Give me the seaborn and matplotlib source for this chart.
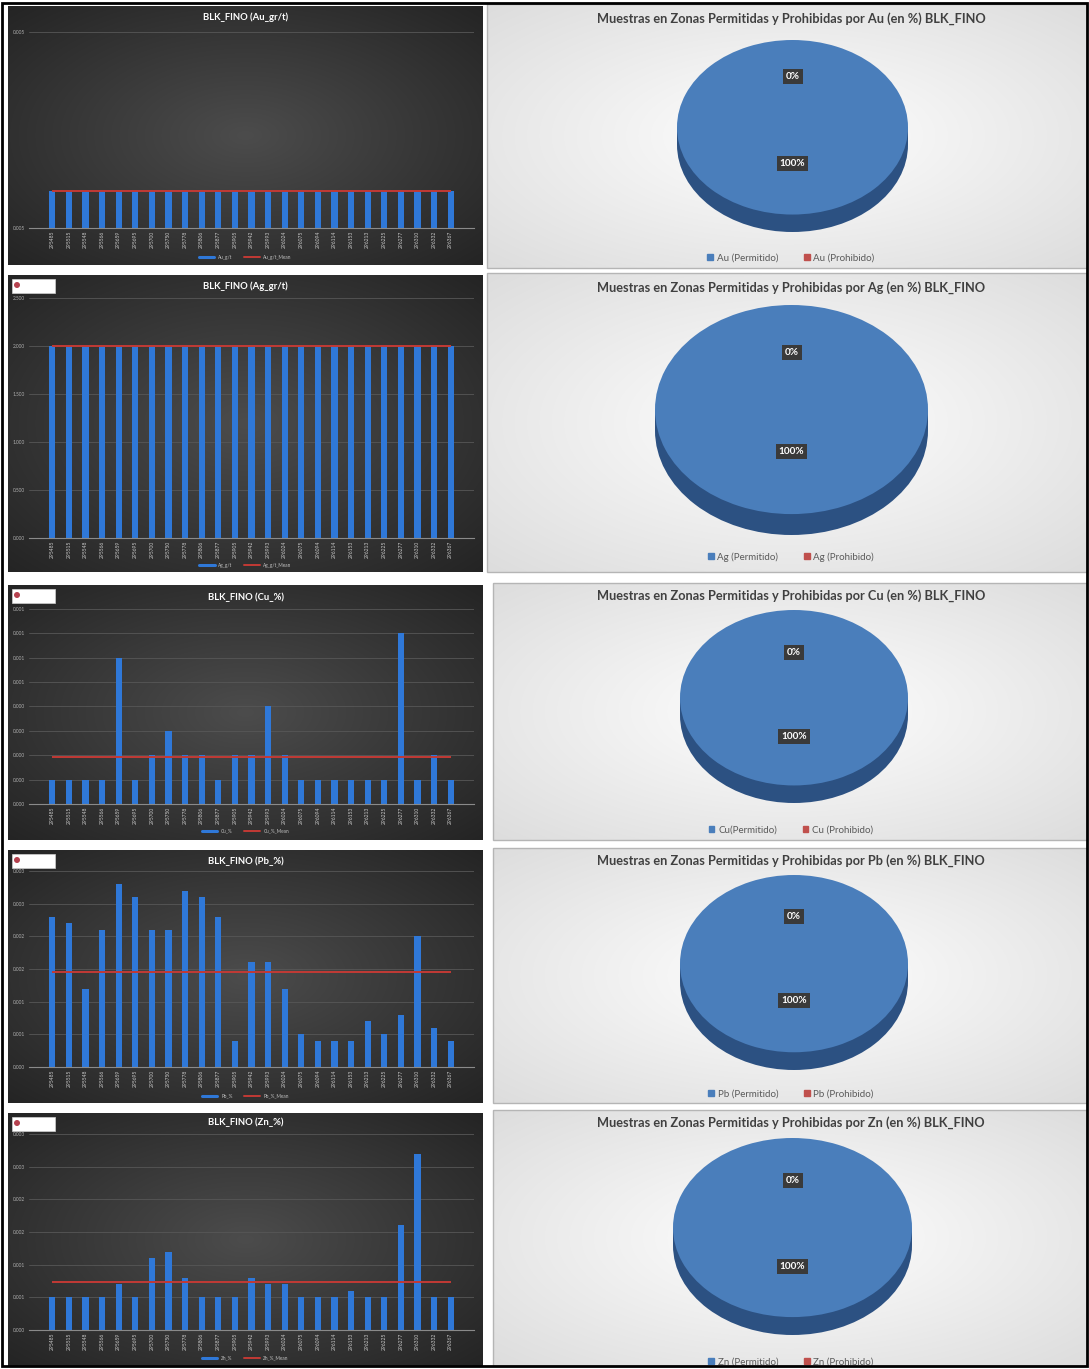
import numpy as np
import pandas as pd
import matplotlib
matplotlib.use("Agg")
import matplotlib.pyplot as plt
from matplotlib.colors import to_rgb
from matplotlib.lines import Line2D
from matplotlib.patches import Rectangle, Ellipse, Patch
import seaborn as sns

sns.set_theme(style="dark")
plt.rcParams["font.family"] = ["Lato", "DejaVu Sans"]

FIG_W, FIG_H = 1089, 1369

# ---------------------------------------------------------------- data
sample_ids = ["295485", "295515", "295548", "295566", "295659", "295695",
              "295700", "295750", "295778", "295806", "295877", "295905",
              "295942", "295993", "296024", "296075", "296094", "296114",
              "296153", "296213", "296225", "296277", "296310", "296332",
              "296367"]

au_gt = [0.005, 0.005, 0.005, 0.005, 0.005, 0.005, 0.005, 0.005, 0.005,
         0.005, 0.005, 0.005, 0.005, 0.005, 0.005, 0.005, 0.005, 0.005,
         0.005, 0.005, 0.005, 0.005, 0.005, 0.005, 0.005]
ag_gt = [2.0, 2.0, 2.0, 2.0, 2.0, 2.0, 2.0, 2.0, 2.0, 2.0, 2.0, 2.0, 2.0,
         2.0, 2.0, 2.0, 2.0, 2.0, 2.0, 2.0, 2.0, 2.0, 2.0, 2.0, 2.0]
cu_pct = [0.0001, 0.0001, 0.0001, 0.0001, 0.0006, 0.0001, 0.0002, 0.0003,
          0.0002, 0.0002, 0.0001, 0.0002, 0.0002, 0.0004, 0.0002, 0.0001,
          0.0001, 0.0001, 0.0001, 0.0001, 0.0001, 0.0007, 0.0001, 0.0002,
          0.0001]
pb_pct = [0.0023, 0.0022, 0.0012, 0.0021, 0.0028, 0.0026, 0.0021, 0.0021,
          0.0027, 0.0026, 0.0023, 0.0004, 0.0016, 0.0016, 0.0012, 0.0005,
          0.0004, 0.0004, 0.0004, 0.0007, 0.0005, 0.0008, 0.0020, 0.0006,
          0.0004]
zn_pct = [0.0005, 0.0005, 0.0005, 0.0005, 0.0007, 0.0005, 0.0011, 0.0012,
          0.0008, 0.0005, 0.0005, 0.0005, 0.0008, 0.0007, 0.0007, 0.0005,
          0.0005, 0.0005, 0.0006, 0.0005, 0.0005, 0.0016, 0.0027, 0.0005,
          0.0005]

au_ticks = [0.0049, 0.00543]
au_tick_labels = ["0.005", "0.005"]
ag_ticks = [0.0, 0.5, 1.0, 1.5, 2.0, 2.5]
ag_tick_labels = ["0.000", "0.500", "1.000", "1.500", "2.000", "2.500"]
cu_ticks = [0.0, 0.0001, 0.0002, 0.0003, 0.0004, 0.0005, 0.0006, 0.0007, 0.0008]
cu_tick_labels = ["0.000", "0.000", "0.000", "0.000", "0.000",
                  "0.001", "0.001", "0.001", "0.001"]
pbzn_ticks = [0.0, 0.0005, 0.001, 0.0015, 0.002, 0.0025, 0.003]
pbzn_tick_labels = ["0.000", "0.001", "0.001", "0.002", "0.002", "0.003", "0.003"]

# share of samples (%) in permitted / prohibited zones for each element
zone_share_au = [100, 0]
zone_share_ag = [100, 0]
zone_share_cu = [100, 0]
zone_share_pb = [100, 0]
zone_share_zn = [100, 0]

BAR_BLUE = "#2f78d8"
MEAN_RED = "#c23a35"
PIE_BLUE = "#4a7ebb"
PIE_SIDE = "#2c5182"
PIE_RED = "#c0504d"

fig = plt.figure(figsize=(FIG_W / 100, FIG_H / 100), dpi=100)
fig.patch.set_facecolor("white")


def box(x0, y0, x1, y1):
    return [x0 / FIG_W, 1 - y1 / FIG_H, (x1 - x0) / FIG_W, (y1 - y0) / FIG_H]


def fx(x):
    return x / FIG_W


def fy(y):
    return 1 - y / FIG_H


def radial(inner, outer, ny=120, nx=200, cx=0.5, cy=0.5, spread=0.75, power=1.0):
    yy, xx = np.mgrid[0:1:ny * 1j, 0:1:nx * 1j]
    r = np.sqrt(((xx - cx) / spread) ** 2 + ((yy - cy) / spread) ** 2)
    r = np.clip(r, 0, 1) ** power
    a = np.array(to_rgb(inner))
    b = np.array(to_rgb(outer))
    return a[None, None, :] * (1 - r[..., None]) + b[None, None, :] * r[..., None]


def background(panel, inner, outer, **kw):
    bg = fig.add_axes(box(*panel))
    bg.imshow(radial(inner, outer, **kw), aspect="auto", extent=(0, 1, 0, 1),
              interpolation="bilinear")
    bg.set_axis_off()
    return bg


def logo(x0, y0):
    fig.patches.append(Rectangle((fx(x0), fy(y0 + 14)), 43 / FIG_W, 14 / FIG_H,
                                 transform=fig.transFigure, facecolor="white",
                                 edgecolor="#d0d0d0", lw=0.5, zorder=5))
    fig.patches.append(Ellipse((fx(x0 + 5), fy(y0 + 6)), 6 / FIG_W, 6 / FIG_H,
                               transform=fig.transFigure, facecolor="#b5424f",
                               lw=0, zorder=6))


def bar_panel(panel, plot, values, ticks, tick_labels, title, title_y,
              series, legend_y, with_logo):
    background(panel, "#4c4c4c", "#1f1f1f", spread=0.8)
    cx = (panel[0] + panel[2]) / 2
    ax = fig.add_axes(box(*plot))
    ax.set_facecolor("none")
    df = pd.DataFrame({"sample": sample_ids, "value": values})
    sns.barplot(data=df, x="sample", y="value", color=BAR_BLUE, saturation=1,
                width=0.37, ax=ax, zorder=2, edgecolor="none", linewidth=0)
    mean = float(np.mean(values))
    ax.hlines(mean, 0, len(values) - 1, color=MEAN_RED, lw=1.4, zorder=3)
    ax.set_ylim(ticks[0], ticks[-1])
    ax.set_yticks(ticks)
    ax.set_yticklabels(tick_labels)
    ax.set_xlabel("")
    ax.set_ylabel("")
    ax.tick_params(axis="x", rotation=90, labelsize=3.6, colors="#c8c8c8",
                   length=0, pad=2)
    ax.tick_params(axis="y", labelsize=3.4, colors="#b0b0b0", length=0, pad=3)
    ax.grid(axis="y", color="#575757", lw=0.6)
    ax.set_axisbelow(True)
    for s in ["top", "right", "left"]:
        ax.spines[s].set_visible(False)
    ax.spines["bottom"].set_color("#8a8a8a")
    ax.spines["bottom"].set_linewidth(0.8)
    fig.text(fx(cx), fy(title_y), title, color="white", fontsize=6.8,
             fontweight="bold", ha="center", va="center")
    handles = [Line2D([], [], color=BAR_BLUE, lw=2.2),
               Line2D([], [], color=MEAN_RED, lw=1.4)]
    fig.legend(handles, [series, series + "_Mean"], loc="center",
               bbox_to_anchor=(fx(cx), fy(legend_y)), ncol=2, frameon=False,
               fontsize=3.4, labelcolor="#c0c0c0", handlelength=3.2,
               columnspacing=2.5)
    if with_logo:
        logo(panel[0] + 4, panel[1] + 4)


def pie_panel(panel, pie_box, share, element, title_y, legend_y, label_y,
              permit_label):
    background(panel, "#ffffff", "#d6d6d6", spread=0.85)
    fig.patches.append(Rectangle((fx(panel[0]), fy(panel[3])),
                                 (panel[2] - panel[0]) / FIG_W,
                                 (panel[3] - panel[1]) / FIG_H,
                                 transform=fig.transFigure, fill=False,
                                 edgecolor="#b5b5b5", lw=1.0, zorder=4))
    cx = 791
    ax = fig.add_axes(box(*pie_box))
    depth = 0.2
    ax.add_patch(Ellipse((0, -depth), 2, 2, facecolor=PIE_SIDE, lw=0))
    ax.add_patch(Rectangle((-1, -depth), 2, depth, facecolor=PIE_SIDE, lw=0))
    wedges, texts, autotexts = ax.pie(
        share, colors=[PIE_BLUE, PIE_RED], startangle=90, counterclock=False,
        autopct="%1.0f%%", pctdistance=0.5, wedgeprops={"linewidth": 0})
    ax.set_aspect("auto")
    ax.set_xlim(-1, 1)
    ax.set_ylim(-1 - depth, 1)
    ax.set_axis_off()
    # label_y holds (permitted, prohibited) label heights
    for t, yv in zip(autotexts, label_y):
        t.set_position((0, yv))
        t.set_color("white")
        t.set_fontsize(7.2)
        t.set_fontweight("bold")
        t.set_bbox(dict(boxstyle="square,pad=0.3", facecolor="#3a3a3a",
                        edgecolor="none"))
    fig.text(fx(cx), fy(title_y),
             f"Muestras en Zonas Permitidas y Prohibidas por {element} (en %) BLK_FINO",
             color="#404040", fontsize=9.2, fontweight="bold", ha="center",
             va="center")
    fig.legend([Patch(color=PIE_BLUE), Patch(color=PIE_RED)],
               [permit_label, f"{element} (Prohibido)"], loc="center",
               bbox_to_anchor=(fx(cx), fy(legend_y)), ncol=2, frameon=False,
               fontsize=7.0, labelcolor="#595959", handlelength=0.6,
               handleheight=0.6, handletextpad=0.4, columnspacing=2.6)


# ---------------------------------------------------------------- rows
bar_panel((8, 6, 483, 265), (29, 32, 474, 228), au_gt, au_ticks, au_tick_labels,
          "BLK_FINO (Au_gr/t)", 17, "Au_g/t", 257, False)
pie_panel((487, 4, 1087, 268), (677, 40, 908, 232), zone_share_au, "Au", 19, 258,
          (-0.41, 0.58), "Au (Permitido)")

bar_panel((8, 275, 483, 572), (29, 298, 474, 538), ag_gt, ag_ticks, ag_tick_labels,
          "BLK_FINO (Ag_gr/t)", 286, "Ag_g/t", 565, True)
pie_panel((487, 273, 1087, 572), (655, 305, 928, 535), zone_share_ag, "Ag", 288, 557,
          (-0.40, 0.55), "Ag (Permitido)")

bar_panel((8, 585, 483, 840), (29, 609, 474, 804), cu_pct, cu_ticks, cu_tick_labels,
          "BLK_FINO (Cu_%)", 597, "Cu_%", 831, True)
pie_panel((493, 583, 1087, 840), (680, 610, 908, 803), zone_share_cu, "Cu", 596, 830,
          (-0.44, 0.52), "Cu(Permitido)")

bar_panel((8, 850, 483, 1103), (29, 871, 474, 1067), pb_pct, pbzn_ticks,
          pbzn_tick_labels, "BLK_FINO (Pb_%)", 861, "Pb_%", 1096, True)
pie_panel((493, 848, 1087, 1103), (680, 875, 908, 1070), zone_share_pb, "Pb", 861,
          1094, (-0.42, 0.53), "Pb (Permitido)")

bar_panel((8, 1113, 483, 1366), (29, 1134, 474, 1330), zn_pct, pbzn_ticks,
          pbzn_tick_labels, "BLK_FINO (Zn_%)", 1122, "Zn_%", 1358, True)
pie_panel((493, 1110, 1087, 1366), (673, 1138, 912, 1335), zone_share_zn, "Zn", 1123,
          1362, (-0.44, 0.52), "Zn (Permitido)")

# outer frame
fig.patches.append(Rectangle((0.002, 0.002), 0.996, 0.996, transform=fig.transFigure,
                             fill=False, edgecolor="black", lw=2.0, zorder=10))

fig.savefig("out.png", dpi=100, facecolor=fig.get_facecolor())
